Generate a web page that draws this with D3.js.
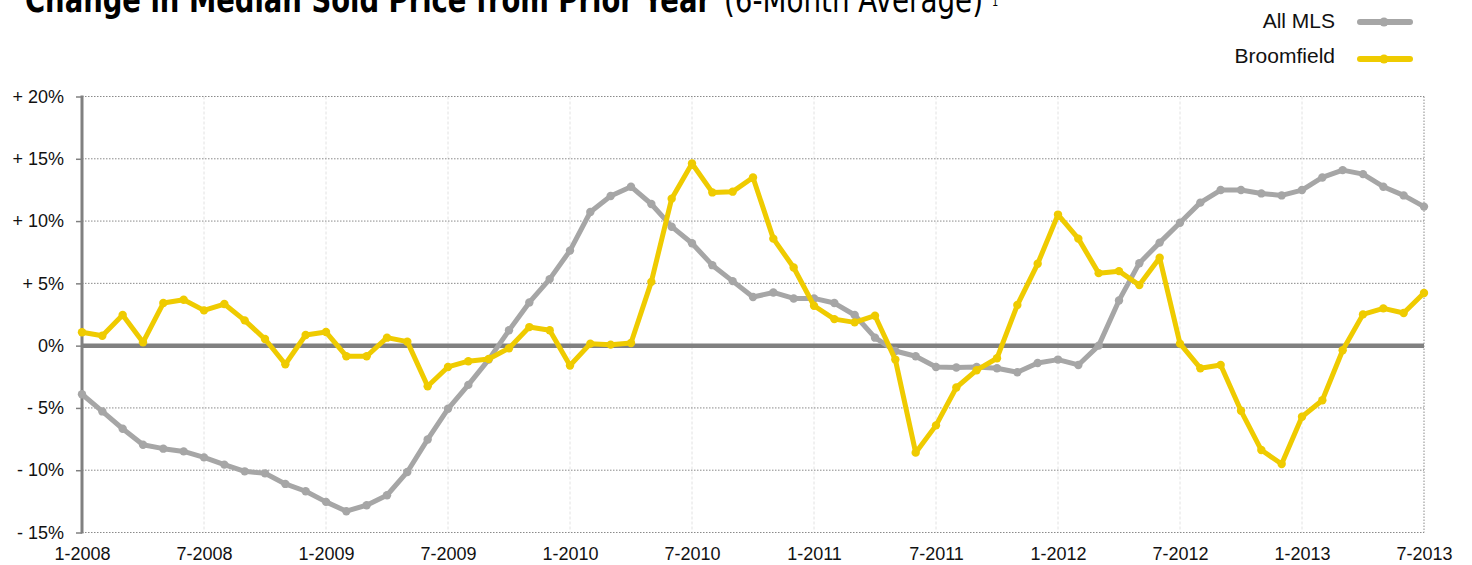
<!DOCTYPE html>
<html lang="en">
<head>
    <meta charset="UTF-8">
    <title>Change in Median Sold Price from Prior Year</title>
    <script src="https://d3js.org/d3.v7.min.js"></script>
    <style>
        body { margin: 0; background: #fff; }
        text { font-family: "Liberation Sans", Arial, sans-serif; fill: #111; }
        .title { font-family: "DejaVu Sans Condensed", "Liberation Sans Narrow", sans-serif; fill: #000; }
        .grid line { stroke: #8a8a8a; stroke-width: 1; stroke-dasharray: 1.5 1.5; }
        .vgrid line { stroke: #e2e2e2; stroke-width: 1; stroke-dasharray: 3 2; }
    </style>
</head>
<body>
<script>
    // monthly, 1-2008 .. 7-2013
    const startYear = 2008;
    const allMls = [
        -3.9, -5.28, -6.67, -7.95, -8.27, -8.49, -8.97, -9.55, -10.09, -10.25, -11.1, -11.69,
        -12.54, -13.29, -12.81, -12.01, -10.14, -7.53, -5.07, -3.15, -1.12, 1.23, 3.47, 5.34,
        7.63, 10.73, 12.01, 12.76, 11.37, 9.55, 8.22, 6.46, 5.18, 3.9, 4.27, 3.79,
        3.79, 3.42, 2.46, 0.64, -0.43, -0.85, -1.71, -1.76, -1.71, -1.81, -2.13, -1.39,
        -1.12, -1.55, 0, 3.63, 6.62, 8.27, 9.87, 11.48, 12.49, 12.49, 12.22, 12.06,
        12.49, 13.5, 14.09, 13.77, 12.76, 12.06, 11.16
    ];
    const broomfield = [
        1.07, 0.8, 2.46, 0.27, 3.42, 3.68, 2.83, 3.34, 2.03, 0.53, -1.49, 0.85,
        1.09, -0.85, -0.85, 0.64, 0.32, -3.26, -1.71, -1.25, -1.07, -0.21, 1.49, 1.23,
        -1.6, 0.16, 0.08, 0.21, 5.12, 11.8, 14.62, 12.3, 12.36, 13.5, 8.59, 6.27,
        3.2, 2.13, 1.87, 2.4, -1.12, -8.59, -6.4, -3.36, -1.97, -1.01, 3.26, 6.57,
        10.52, 8.59, 5.82, 5.98, 4.86, 7.05, 0.16, -1.81, -1.55, -5.23, -8.38, -9.5,
        -5.71, -4.38, -0.37, 2.51, 2.99, 2.62, 4.22
    ];
    const yTicks = [-15, -10, -5, 0, 5, 10, 15, 20];
    const xTickMonths = [0, 6, 12, 18, 24, 30, 36, 42, 48, 54, 60, 66];

    const width = 1472, height = 565;
    const margin = { left: 82, right: 48, top: 96, bottom: 32 };

    const svg = d3.select('body').append('svg')
        .attr('width', width)
        .attr('height', height);

    const x = d3.scaleLinear().domain([0, allMls.length - 1]).range([margin.left, width - margin.right]);
    const y = d3.scaleLinear().domain([-15, 20]).range([height - margin.bottom - 0.5, margin.top + 0.5]);

    const monthLabel = i => `${(i % 12) + 1}-${startYear + Math.floor(i / 12)}`;
    const pctLabel = v => v === 0 ? '0%' : (v > 0 ? '+ ' : '- ') + Math.abs(v) + '%';

    // title (top is cut off in the original)
    svg.append('text').attr('class', 'title')
        .attr('x', 25).attr('y', 12)
        .attr('textLength', 686).attr('lengthAdjust', 'spacingAndGlyphs')
        .style('font-size', '35px').style('font-weight', 'bold')
        .text('Change in Median Sold Price from Prior Year');
    svg.append('text').attr('class', 'title')
        .attr('x', 724).attr('y', 12)
        .attr('textLength', 259).attr('lengthAdjust', 'spacingAndGlyphs')
        .style('font-size', '35px')
        .text('(6-Month Average)');
    svg.append('text').attr('class', 'title')
        .attr('x', 992).attr('y', 6)
        .style('font-size', '11px')
        .text('1');

    // vertical grid
    svg.append('g').attr('class', 'vgrid')
        .selectAll('line').data(xTickMonths.slice(1, -1)).join('line')
        .attr('x1', d => x(d)).attr('x2', d => x(d))
        .attr('y1', y(20)).attr('y2', y(-15));

    // horizontal grid
    svg.append('g').attr('class', 'grid')
        .selectAll('line').data(yTicks.filter(d => d !== 0)).join('line')
        .attr('x1', x(0)).attr('x2', x(66))
        .attr('y1', d => y(d)).attr('y2', d => y(d));
    svg.append('line')
        .attr('x1', x(66)).attr('x2', x(66)).attr('y1', y(20)).attr('y2', y(-15))
        .attr('stroke', '#8a8a8a').attr('stroke-dasharray', '1.5 1.5');

    // y axis
    const yAxis = svg.append('g')
        .attr('transform', `translate(${x(0)},0)`)
        .call(d3.axisLeft(y).tickValues(yTicks).tickFormat(pctLabel).tickSize(6).tickPadding(12));
    yAxis.select('.domain').remove();
    yAxis.selectAll('.tick line').attr('stroke', '#808080').attr('stroke-width', 1.5);
    yAxis.selectAll('.tick text').style('font-size', '18px').attr('fill', '#111')
        .attr('font-family', '"Liberation Sans", Arial, sans-serif');
    svg.append('line')
        .attr('x1', x(0)).attr('x2', x(0)).attr('y1', y(20) - 1).attr('y2', y(-15) + 1)
        .attr('stroke', '#808080').attr('stroke-width', 3);

    // x axis labels
    const xAxis = svg.append('g')
        .attr('transform', `translate(0,${y(-15)})`)
        .call(d3.axisBottom(x).tickValues(xTickMonths).tickFormat(monthLabel).tickSize(0).tickPadding(15));
    xAxis.select('.domain').remove();
    xAxis.selectAll('.tick text').style('font-size', '18px').attr('fill', '#111')
        .attr('font-family', '"Liberation Sans", Arial, sans-serif');

    // zero line
    svg.append('line')
        .attr('x1', x(0)).attr('x2', x(66)).attr('y1', y(0)).attr('y2', y(0))
        .attr('stroke', '#808080').attr('stroke-width', 4.5);

    const series = [
        { name: 'All MLS', values: allMls, color: '#a6a6a6' },
        { name: 'Broomfield', values: broomfield, color: '#efcb00' }
    ];

    const line = d3.line().x((d, i) => x(i)).y(d => y(d));

    series.forEach(s => {
        svg.append('path')
            .datum(s.values)
            .attr('fill', 'none')
            .attr('stroke', s.color)
            .attr('stroke-width', 5)
            .attr('stroke-linejoin', 'round')
            .attr('d', line);
        svg.append('g').selectAll('circle').data(s.values).join('circle')
            .attr('cx', (d, i) => x(i)).attr('cy', d => y(d))
            .attr('r', 4.2).attr('fill', s.color);
    });

    // legend
    const legend = svg.append('g');
    series.forEach((s, i) => {
        const ly = 22 + i * 37;
        legend.append('text')
            .attr('x', 1335).attr('y', ly + 6 - i * 2)
            .attr('text-anchor', 'end')
            .style('font-size', '21px')
            .text(s.name);
        legend.append('line')
            .attr('x1', 1360).attr('x2', 1410).attr('y1', ly).attr('y2', ly)
            .attr('stroke', s.color).attr('stroke-width', 6).attr('stroke-linecap', 'round');
        legend.append('circle')
            .attr('cx', 1384).attr('cy', ly).attr('r', 4.5).attr('fill', s.color);
    });
</script>
</body>
</html>
